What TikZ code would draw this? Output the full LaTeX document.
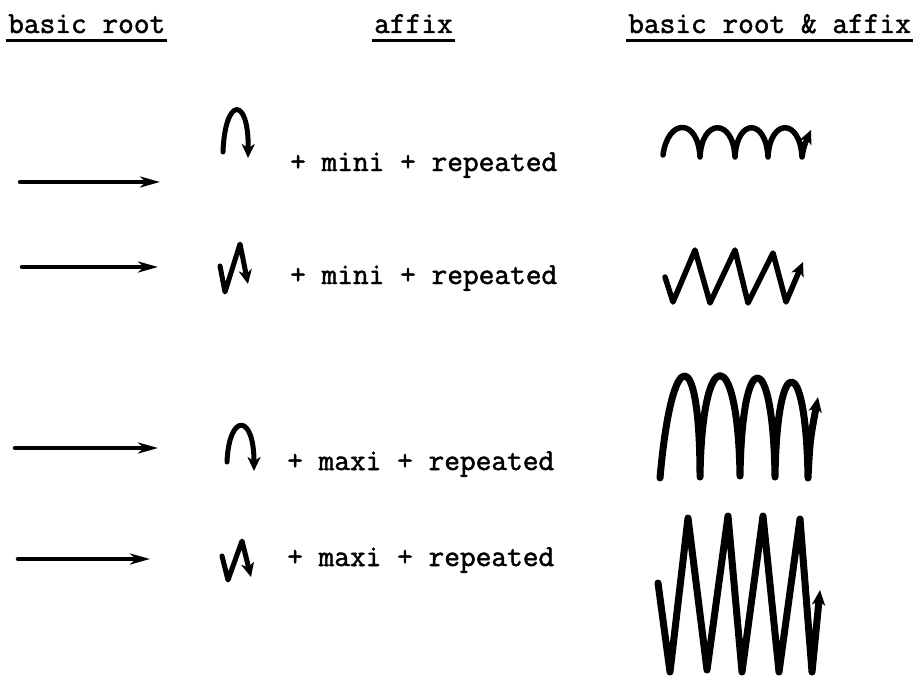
\documentclass[tikz,border=0pt]{standalone}
\usepackage{fontspec}
\newfontfamily\tw[FakeBold=1.6]{Latin Modern Mono}
\usetikzlibrary{arrows.meta}
\begin{document}
\begin{tikzpicture}[x=1pt,y=-1pt,
  lbl/.style={font=\tw\fontsize{30.5}{34}\selectfont, anchor=base west, inner sep=0pt},
  uline/.style={line width=3pt},
  rootarrow/.style={line width=4.5pt, line cap=round, -{Stealth[length=20pt,width=11pt,inset=6pt]}},
  glyph/.style={line width=5pt, line cap=round, line join=round, -{Stealth[length=14pt,width=13pt,inset=4pt]}},
  wave/.style={line width=5.5pt, line cap=round, line join=round, -{Stealth[length=14pt,width=13pt,inset=4pt]}},
  bigwave/.style={line width=7pt, line cap=round, line join=round, -{Stealth[length=15pt,width=13pt,inset=4pt]}}]
\useasboundingbox (0,0) rectangle (917,677);

% column headings
\node[lbl] (h1) at (8,33) {basic root};
\node[lbl] (h2) at (374,33) {affix};
\node[lbl] (h3) at (628,33) {basic root \& affix};
\foreach \h in {h1,h2,h3}
  \draw[uline] ([xshift=-2pt,yshift=-8pt]\h.base west) -- ([xshift=2pt,yshift=-8pt]\h.base east);

% basic root arrows
\coordinate (r1a) at (20,182);  \coordinate (r1b) at (160,182);
\coordinate (r2a) at (22,267);  \coordinate (r2b) at (158,267);
\coordinate (r3a) at (15,448);  \coordinate (r3b) at (158,448);
\coordinate (r4a) at (18,559);  \coordinate (r4b) at (150,559);
\foreach \r in {1,2,3,4}
  \draw[rootarrow] (r\r a) -- (r\r b);

% affix glyphs
\draw[glyph] (223,152) .. controls (225,96) and (249,96) .. (248,158);
\draw[glyph] (220,266) -- (225,292) -- (240,244) -- (248,284);
\draw[glyph] (227,462) .. controls (229,413) and (254,413) .. (254,471);
\draw[glyph] (222,556) -- (228,580) -- (242,541) -- (251,577);

% affix labels
\node[lbl] (t1) at (290,171) {+ mini + repeated};
\node[lbl] (t2) at (290,284) {+ mini + repeated};
\node[lbl] (t3) at (287,470) {+ maxi + repeated};
\node[lbl] (t4) at (287,566) {+ maxi + repeated};

% combined forms
\draw[wave] (663,155) .. controls (668,118) and (698,118) .. (700,157)
  .. controls (702,118) and (733,118) .. (735,157)
  .. controls (737,118) and (766,118) .. (768,157)
  .. controls (770,118) and (800,118) .. (802,157)
  .. controls (804,146) .. (811,130);

\draw[wave] (665,277) -- (673,302) -- (695,250) -- (710,303) -- (735,250)
  -- (748,303) -- (773,253) -- (786,302) -- (803,262);

\draw[bigwave] (660,478) .. controls (672,342) and (700,342) .. (700,477)
  .. controls (702,342) and (738,342) .. (740,476)
  .. controls (742,345) and (773,345) .. (775,477)
  .. controls (777,350) and (806,350) .. (808,478)
  .. controls (810,440) .. (818,397);

\draw[bigwave] (658,583) -- (670,672) -- (688,518) -- (707,670) -- (728,516)
  -- (742,672) -- (763,516) -- (779,672) -- (800,519) -- (812,672) -- (820,590);
\end{tikzpicture}
\end{document}
